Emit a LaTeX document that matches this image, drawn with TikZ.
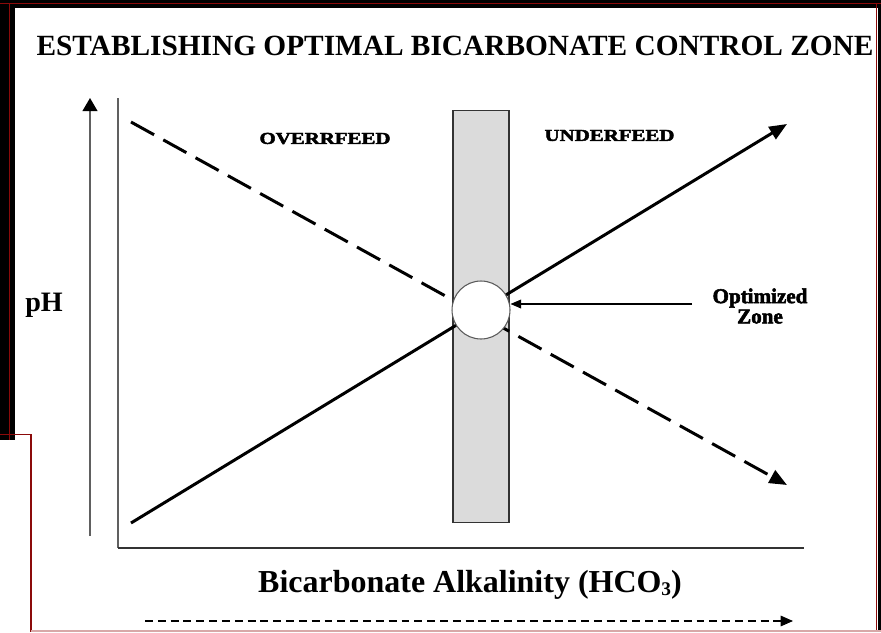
\documentclass[tikz,border=0pt]{standalone}
\usepackage{fontspec}
\setmainfont{Liberation Serif}
\newfontfamily\heavyfont{Liberation Serif}[BoldFeatures={FakeBold=2.5}]
\usetikzlibrary{arrows.meta}
\definecolor{framered}{HTML}{8B0A0A}
\definecolor{framepink}{HTML}{D8A8A8}

\begin{document}
\begin{tikzpicture}
               [x=0.02cm, y=-0.02cm,
                axis/.style = {draw=gray!75!black, line width=0.9pt},
                rise/.style = {line width=1.7pt, -{Triangle[length=10pt,width=8pt]}},
                fall/.style = {line width=1.7pt, dash pattern=on 15pt off 6pt, -{Triangle[length=10pt,width=8pt]}},
                band/.style = {draw=gray!40!black, fill=gray!28, line width=0.6pt, minimum width=1.12cm, minimum height=8.26cm, inner sep=0pt},
                ring/.style = {circle, draw=gray!70!black, fill=white, line width=0.6pt, minimum size=1.16cm, inner sep=0pt},
                side/.style = {font=\fontsize{9.5}{11}\selectfont\heavyfont\bfseries, xscale=1.25, inner sep=0pt}]
                % Frame of the slide
                \useasboundingbox (0,0) rectangle (881,632);
                \fill[black] (0,0) rectangle (881,7.5);
                \fill[black] (0,0) rectangle (15,440);
                \fill[black] (878,0) rectangle (881,632);
                \draw[framered, line width=1.1pt] (0,3.5) -- (881,3.5);
                \draw[framered, line width=1.1pt] (9.5,3.5) -- (9.5,440);
                \draw[framered, line width=1.1pt] (876.5,3.5) -- (876.5,632);
                \draw[framered, line width=0.9pt] (0,434.5) -- (31,434.5) -- (31,632);
                \draw[framepink, line width=0.9pt] (31,631) -- (881,631);
                % Texts
                \node[font=\fontsize{16.7}{18}\selectfont\bfseries, inner sep=0pt] (title) at (455,46) {ESTABLISHING OPTIMAL BICARBONATE CONTROL ZONE};
                \node[side] (over) at (325,138.5) {OVERRFEED};
                \node[side] (under) at (609.5,135.5) {UNDERFEED};
                \node[font=\fontsize{16}{18}\selectfont\bfseries, anchor=base west, inner sep=0pt] (ph) at (25,311) {pH};
                \node[font=\fontsize{18.2}{20}\selectfont\bfseries, inner sep=0pt] (alk) at (470,585) {Bicarbonate Alkalinity (HCO{\fontsize{11}{11}\selectfont\raisebox{-0.35ex}{3}})};
                \node[font=\fontsize{12}{11.5}\selectfont\heavyfont\bfseries, align=center, inner sep=0pt] (opt) at (760,306) {Optimized\\Zone};
                % Control band
                \node[band] (zoneband) at (481,316.5) {};
                % Axes
                \coordinate (p0) at (90,536);
                \coordinate (p1) at (90,98);
                \coordinate (ytop) at (118,98);
                \coordinate (o) at (118,548);
                \coordinate (xend) at (804,548);
                \draw[axis, -{Triangle[length=7.5pt,width=8.5pt,black]}] (p0) -- (p1);
                \draw[axis] (ytop) -- (o);
                \draw[axis, draw=black!80] (o) -- (xend);
                % Lines
                \coordinate (s0) at (131,523);
                \coordinate (s1) at (787,124);
                \coordinate (d0) at (131,122);
                \coordinate (d1) at (787,485);
                \draw[rise] (s0) -- (s1);
                \draw[fall] (d0) -- (d1);
                % Optimized zone
                \node[ring] (zone) at (481,310) {};
                \coordinate (optfoot) at ([xshift=-0.4cm,yshift=0.04cm]opt.west);
                \draw[line width=0.6pt, -{Triangle[length=6pt,width=5pt]}] (optfoot) -- (optfoot -| zone.east);
                % Direction of alkalinity
                \coordinate (b0) at (145,621);
                \coordinate (b1) at (793,621);
                \draw[line width=0.6pt, dash pattern=on 4.5pt off 2.8pt, -{Triangle[length=7pt,width=6pt]}] (b0) -- (b1);
            \end{tikzpicture}
\end{document}
